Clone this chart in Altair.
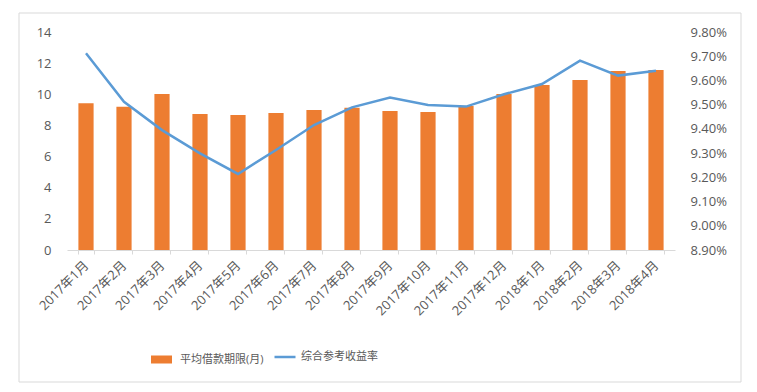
import altair as alt
import pandas as pd

months = ["2017年1月", "2017年2月", "2017年3月", "2017年4月", "2017年5月", "2017年6月",
          "2017年7月", "2017年8月", "2017年9月", "2017年10月", "2017年11月", "2017年12月",
          "2018年1月", "2018年2月", "2018年3月", "2018年4月"]
term = [9.42, 9.2, 10.02, 8.73, 8.67, 8.8, 8.99, 9.14, 8.93, 8.86, 9.25, 10.02, 10.6, 10.92, 11.5, 11.56]
rate = [0.09712, 0.09512, 0.09395, 0.09299, 0.09214, 0.09313, 0.09416, 0.09489,
        0.09529, 0.09499, 0.09492, 0.09543, 0.09585, 0.09682, 0.09620, 0.09640]

bar_name = "平均借款期限(月)"
line_name = "综合参考收益率"

df = pd.DataFrame({"month": months, "term": term, "rate": rate,
                   "s1": bar_name, "s2": line_name})

FONT = "Open Sans, Noto Sans CJK SC"
GREY = "#595959"

x = alt.X("month:N", sort=months, title=None,
          scale=alt.Scale(paddingInner=0.6, paddingOuter=0.3),
          axis=alt.Axis(labelAngle=-45, labelAlign="right", labelBaseline="middle",
                        labelPadding=9, tickBand="extent", tickSize=4,
                        domainColor="#d9d9d9", tickColor="#d9d9d9",
                        labelFont=FONT, labelFontSize=13, labelColor=GREY))

base = alt.Chart(df)

bars = base.mark_bar(color="#ED7D31").encode(
    x=x,
    y=alt.Y("term:Q", title=None,
            scale=alt.Scale(domain=[0, 14], nice=False),
            axis=alt.Axis(values=[0, 2, 4, 6, 8, 10, 12, 14], grid=False, domain=False,
                          ticks=False, labelPadding=16, labelFont=FONT, labelFontSize=13,
                          labelColor=GREY)),
    color=alt.Color("s1:N", scale=alt.Scale(range=["#ED7D31"]),
                    legend=alt.Legend(title=None, orient="none", legendX=80, legendY=313,
                                      symbolType="stroke", symbolStrokeWidth=8,
                                      symbolStrokeColor="#ED7D31", symbolSize=441,
                                      labelFont=FONT, labelFontSize=11, labelColor=GREY)),
)

line = base.mark_line(color="#5B9BD5", strokeWidth=2.5).encode(
    x=x,
    y=alt.Y("rate:Q", title=None,
            scale=alt.Scale(domain=[0.089, 0.098], nice=False, zero=False),
            axis=alt.Axis(orient="right",
                          values=[0.089, 0.090, 0.091, 0.092, 0.093, 0.094, 0.095, 0.096, 0.097, 0.098],
                          format=".2%", grid=False, domain=False, ticks=False, labelPadding=15,
                          labelFont=FONT, labelFontSize=13, labelColor=GREY)),
    stroke=alt.Stroke("s2:N", scale=alt.Scale(range=["#5B9BD5"]),
                      legend=alt.Legend(title=None, orient="none", legendX=206, legendY=313,
                                        symbolType="stroke", symbolStrokeWidth=2.5, symbolSize=441,
                                        labelFont=FONT, labelFontSize=11, labelColor=GREY)),
)

frame = alt.Chart(pd.DataFrame({"a": [0]})).mark_rect(fill=None, stroke="#d9d9d9", strokeWidth=1).encode(
    x=alt.value(-48), x2=alt.value(674), y=alt.value(-19), y2=alt.value(350)
)

chart = alt.layer(frame, bars, line).resolve_scale(y="independent").properties(
    width=608, height=218,
    autosize=alt.AutoSizeParams(type="none"),
    padding={"left": 59, "top": 24, "right": 70, "bottom": 136},
).configure_view(stroke=None)

chart.save("out.html", embed_options={"renderer": "svg", "actions": False})
